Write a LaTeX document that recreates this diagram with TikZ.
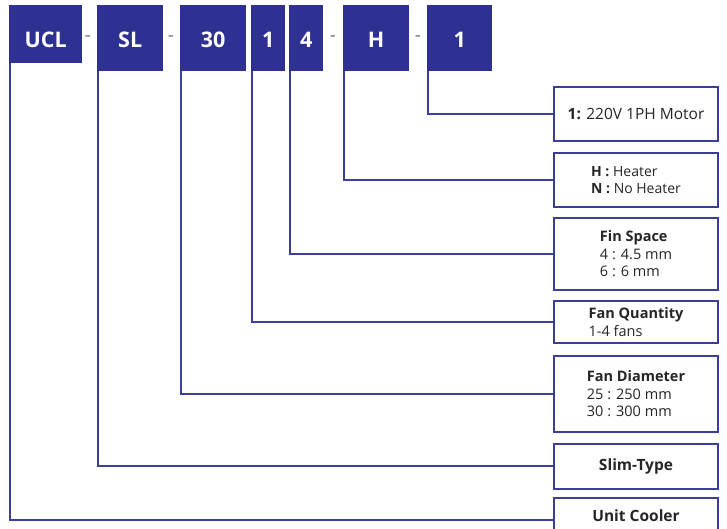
\documentclass[tikz,border=0pt]{standalone}
\usepackage{fontspec}
\setmainfont{Open Sans}
\definecolor{ucblue}{HTML}{2E3192}
\definecolor{ucline}{HTML}{3C3F9A}
\definecolor{uctext}{HTML}{262626}
\definecolor{ucdash}{HTML}{7A7A7A}
\begin{document}
\begin{tikzpicture}[x=1pt, y=-1pt,
  codebox/.style={fill=ucblue, text=white, font=\fontsize{21.5}{24}\selectfont\bfseries,
    anchor=north west, inner sep=0pt, minimum height=66, text height=19pt, text depth=0pt},
  descbox/.style={draw=ucline, line width=2pt, fill=white, minimum width=164, inner sep=0pt,
    align=left, text=uctext, font=\fontsize{14.5}{17.5}\selectfont},
  link/.style={draw=ucline, line width=2.2pt},
  sep/.style={text=ucdash, font=\fontsize{19}{19}\selectfont}]
\useasboundingbox[fill=white] (0,0) rectangle (727,529);
% code boxes
\node[codebox, minimum width=73, minimum height=58, text height=26pt] (cucl) at (9,5){UCL};
\node[codebox, minimum width=66] (csl) at (97,5){SL};
\node[codebox, minimum width=66] (cdia) at (180,5){30};
\node[codebox, minimum width=34] (cqty) at (251,5){1};
\node[codebox, minimum width=34] (cfin) at (289,5){4};
\node[codebox, minimum width=66] (cheat) at (343,5){H};
\node[codebox, minimum width=65] (cmot) at (427,5){1};
\node[sep] (s1) at (88,39){-};
\node[sep] (s2) at (171,39){-};
\node[sep] (s3) at (333,39){-};
\node[sep] (s4) at (418,39){-};
% meaning boxes
\node[descbox, minimum height=54, font=\fontsize{15.5}{18}\selectfont] (dmot) at (636,114){\textbf{1:} 220V 1PH Motor};
\node[descbox, minimum height=54, font=\fontsize{14}{17}\selectfont] (dheat) at (636,180){\textbf{H :} Heater\\\textbf{N :} No Heater};
\node[descbox, minimum height=72] (dfin) at (636,254){\textbf{Fin Space}\\4 : 4.5 mm\\6 : 6 mm};
\node[descbox, minimum height=42] (dqty) at (636,322){\textbf{Fan Quantity}\\1-4 fans};
\node[descbox, minimum height=76] (ddia) at (636,394){\textbf{Fan Diameter}\\25 : 250 mm\\30 : 300 mm};
\node[descbox, minimum height=45, font=\fontsize{15.5}{18}\selectfont\bfseries] (dsl) at (636,466){Slim-Type};
\node[descbox, minimum height=45, font=\fontsize{15.5}{18}\selectfont\bfseries, text height=11pt, text depth=8pt] (ducl) at (636,520){Unit Cooler};
% links
\draw[link] ([xshift=1.2pt]cucl.south west) |- (ducl.west);
\draw[link] ([xshift=1.2pt]csl.south west) |- (dsl.west);
\draw[link] ([xshift=1.2pt]cdia.south west) |- (ddia.west);
\draw[link] ([xshift=1.2pt]cqty.south west) |- (dqty.west);
\draw[link] ([xshift=1.2pt]cfin.south west) |- (dfin.west);
\draw[link] ([xshift=1.2pt]cheat.south west) |- (dheat.west);
\draw[link] ([xshift=1.2pt]cmot.south west) |- (dmot.west);
\end{tikzpicture}
\end{document}
